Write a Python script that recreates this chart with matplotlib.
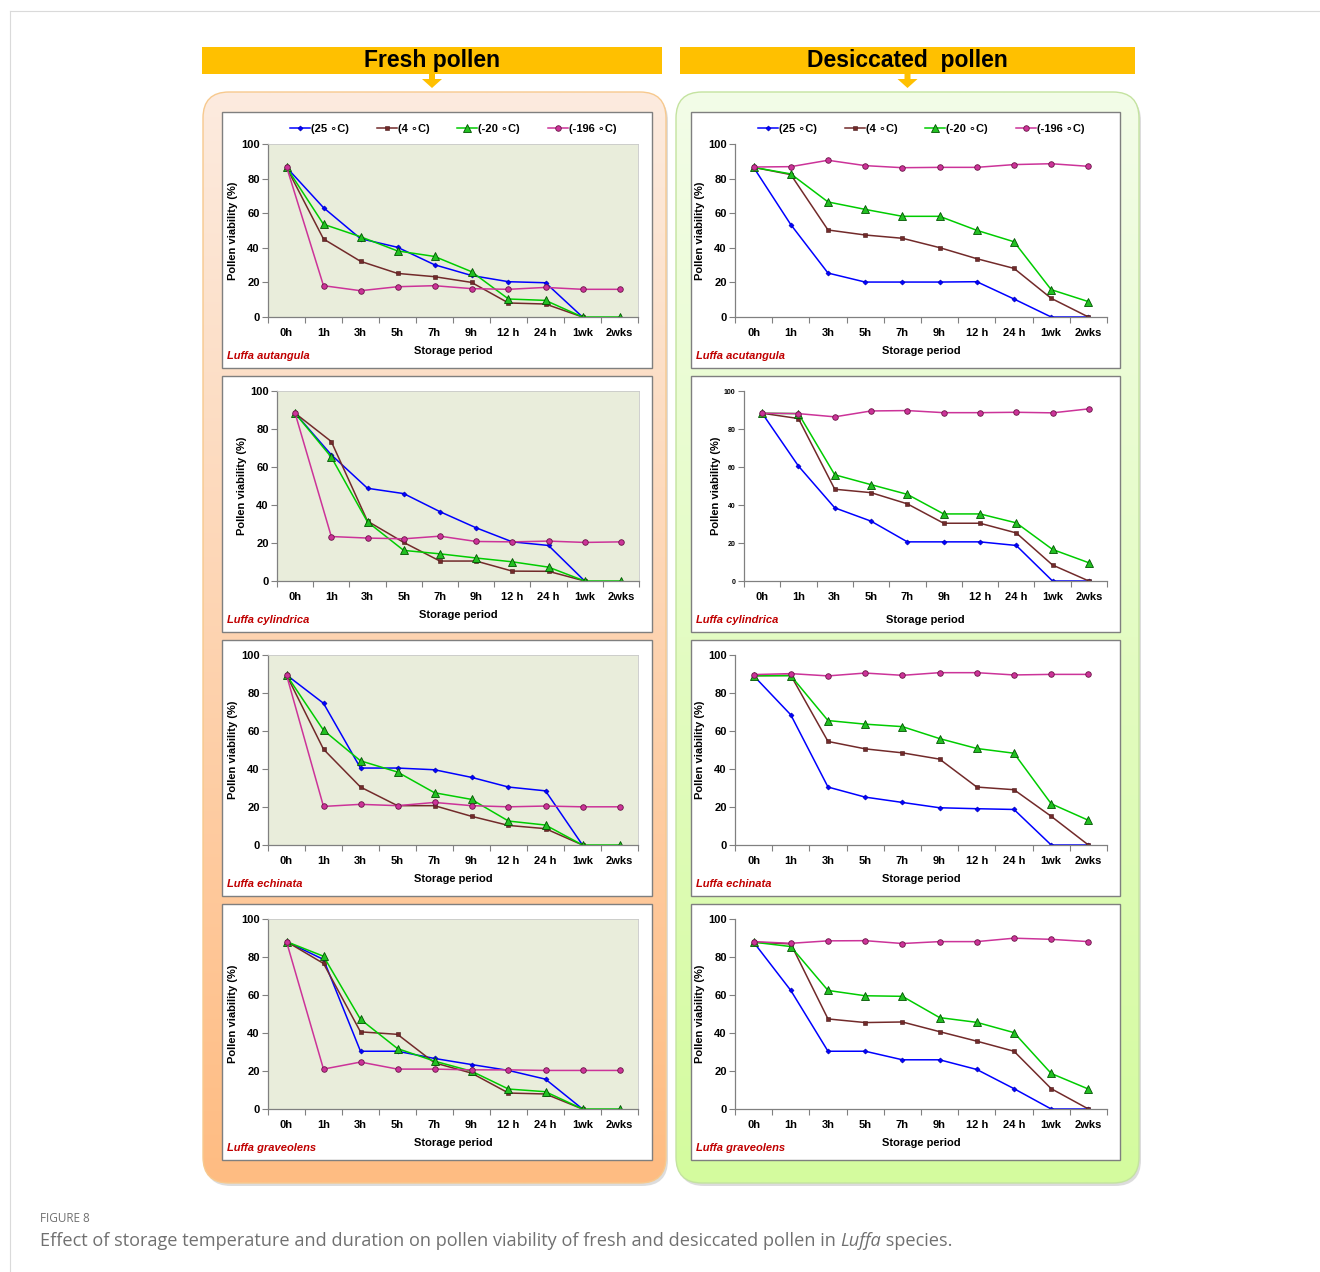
import numpy as np
import matplotlib

matplotlib.use("Agg")

import matplotlib.pyplot as plt  # noqa: E402
from matplotlib.patches import FancyBboxPatch, Rectangle, Polygon  # noqa: E402
from matplotlib.colors import to_rgb  # noqa: E402

plt.rcParams.update({
    "font.family": ["Liberation Sans", "DejaVu Sans"],
    "font.weight": "bold",
    "axes.labelweight": "bold",
})

W, H = 1320, 1272
nan = np.nan

periods = ["0h", "1h", "3h", "5h", "7h", "9h", "12 h", "24 h", "1wk", "2wks"]
temps = ["(25 \u2218C)", "(4 \u2218C)", "(-20 \u2218C)", "(-196 \u2218C)"]

# fresh pollen
autangula_fresh_25 = [86.5, 63.2, 45.3, 40.3, 30.2, 24.0, 20.4, 19.8, 0, nan]
autangula_fresh_4 = [86.5, 45.1, 32.2, 25.2, 23.3, 20.0, 8.1, 7.5, 0, nan]
autangula_fresh_20 = [86.5, 53.6, 46.4, 38.2, 35.0, 26.2, 10.4, 9.6, 0, 0]
autangula_fresh_196 = [86.9, 18.1, 15.2, 17.5, 18.1, 16.4, 16.0, 17.1, 16.0, 16.0]

cylindrica_fresh_25 = [88.3, 66.4, 48.8, 46.0, 36.5, 28.0, 20.6, 18.7, 0, nan]
cylindrica_fresh_4 = [88.3, 73.4, 31.5, 20.3, 10.5, 10.5, 5.2, 5.1, 0, nan]
cylindrica_fresh_20 = [88.3, 65.2, 31.1, 16.1, 14.3, 12.1, 10.1, 7.3, 0, 0]
cylindrica_fresh_196 = [88.3, 23.4, 22.6, 22.2, 23.6, 20.8, 20.6, 21.0, 20.3, 20.6]

echinata_fresh_25 = [89.5, 74.6, 40.5, 40.5, 39.6, 35.6, 30.5, 28.5, 0, nan]
echinata_fresh_4 = [89.5, 50.4, 30.5, 20.7, 20.7, 15.1, 10.3, 8.6, 0, nan]
echinata_fresh_20 = [89.5, 60.4, 44.3, 38.4, 27.5, 24.0, 12.6, 10.5, 0, 0]
echinata_fresh_196 = [89.5, 20.3, 21.4, 20.7, 22.4, 20.7, 20.1, 20.5, 20.1, 20.1]

graveolens_fresh_25 = [88.1, 78.7, 30.4, 30.4, 26.6, 23.4, 20.3, 15.7, 0, nan]
graveolens_fresh_4 = [88.1, 76.6, 40.6, 39.3, 24.3, 18.9, 8.4, 7.9, 0, nan]
graveolens_fresh_20 = [88.1, 80.4, 47.2, 31.8, 25.2, 19.9, 10.5, 9.1, 0, 0]
graveolens_fresh_196 = [88.1, 21.0, 24.7, 21.0, 21.0, 20.6, 20.6, 20.3, 20.3, 20.3]

# desiccated pollen
acutangula_dry_25 = [86.5, 53.4, 25.4, 20.2, 20.2, 20.2, 20.4, 10.4, 0, 0]
acutangula_dry_4 = [86.5, 82.3, 50.3, 47.4, 45.5, 40.1, 33.7, 28.1, 10.8, 0]
acutangula_dry_20 = [86.5, 82.7, 66.5, 62.2, 58.2, 58.2, 50.1, 43.5, 15.8, 8.9]
acutangula_dry_196 = [86.7, 86.9, 90.6, 87.5, 86.3, 86.5, 86.5, 88.1, 88.6, 87.1]

cylindrica_dry_25 = [88.3, 60.5, 38.5, 31.5, 20.6, 20.6, 20.6, 18.7, 0, 0]
cylindrica_dry_4 = [88.3, 85.5, 48.3, 46.5, 40.6, 30.4, 30.4, 25.3, 8.4, 0]
cylindrica_dry_20 = [88.3, 88.1, 55.9, 50.7, 45.6, 35.3, 35.3, 30.6, 16.6, 9.6]
cylindrica_dry_196 = [88.3, 88.1, 86.4, 89.5, 89.7, 88.6, 88.6, 88.8, 88.5, 90.6]

echinata_dry_25 = [89.1, 68.5, 30.5, 25.2, 22.4, 19.6, 19.1, 18.7, 0, 0]
echinata_dry_4 = [89.1, 89.3, 54.5, 50.6, 48.5, 45.2, 30.5, 29.1, 15.1, 0]
echinata_dry_20 = [89.1, 89.1, 65.5, 63.6, 62.3, 56.0, 50.8, 48.3, 21.7, 13.0]
echinata_dry_196 = [89.7, 90.2, 89.0, 90.5, 89.3, 90.7, 90.7, 89.5, 89.8, 89.8]

graveolens_dry_25 = [87.8, 62.4, 30.4, 30.4, 25.9, 25.9, 20.8, 10.7, 0, 0]
graveolens_dry_4 = [87.8, 86.9, 47.4, 45.5, 45.8, 40.7, 35.7, 30.4, 10.7, 0]
graveolens_dry_20 = [87.8, 85.5, 62.4, 59.6, 59.3, 48.1, 45.6, 40.2, 18.7, 10.5]
graveolens_dry_196 = [88.1, 87.2, 88.5, 88.6, 87.1, 88.1, 88.1, 89.9, 89.3, 88.1]

styles = [
    dict(color="#0000FF", marker="D", markersize=2.6, markerfacecolor="#0000FF",
         markeredgecolor="#0000AA", markeredgewidth=0.4),
    dict(color="#722A2A", marker="s", markersize=2.6, markerfacecolor="#722A2A",
         markeredgecolor="#4A1A1A", markeredgewidth=0.4),
    dict(color="#00CC00", marker="^", markersize=5.5, markerfacecolor="#22C022",
         markeredgecolor="#005500", markeredgewidth=0.6),
    dict(color="#CC3399", marker="o", markersize=4.0, markerfacecolor="#CC3399",
         markeredgecolor="#6A1545", markeredgewidth=0.6),
]

# kind, species, series, white box px (x0, y0, x1, y1), plot area px
panels = [
    ("fresh", "Luffa autangula",
     [autangula_fresh_25, autangula_fresh_4, autangula_fresh_20, autangula_fresh_196],
     (222, 112, 652, 368), (268, 144, 638, 317)),
    ("fresh", "Luffa cylindrica",
     [cylindrica_fresh_25, cylindrica_fresh_4, cylindrica_fresh_20, cylindrica_fresh_196],
     (222, 376, 652, 632), (277, 391, 639, 581)),
    ("fresh", "Luffa echinata",
     [echinata_fresh_25, echinata_fresh_4, echinata_fresh_20, echinata_fresh_196],
     (222, 640, 652, 896), (268, 655, 638, 845)),
    ("fresh", "Luffa graveolens",
     [graveolens_fresh_25, graveolens_fresh_4, graveolens_fresh_20, graveolens_fresh_196],
     (222, 904, 652, 1160), (268, 919, 638, 1109)),
    ("dry", "Luffa acutangula",
     [acutangula_dry_25, acutangula_dry_4, acutangula_dry_20, acutangula_dry_196],
     (691, 112, 1120, 368), (735, 144, 1107, 317)),
    ("dry", "Luffa cylindrica",
     [cylindrica_dry_25, cylindrica_dry_4, cylindrica_dry_20, cylindrica_dry_196],
     (691, 376, 1120, 632), (744, 391, 1107, 581)),
    ("dry", "Luffa echinata",
     [echinata_dry_25, echinata_dry_4, echinata_dry_20, echinata_dry_196],
     (691, 640, 1120, 896), (735, 655, 1107, 845)),
    ("dry", "Luffa graveolens",
     [graveolens_dry_25, graveolens_dry_4, graveolens_dry_20, graveolens_dry_196],
     (691, 904, 1120, 1160), (735, 919, 1107, 1109)),
]


def fig_rect(x0, y0, x1, y1):
    return [x0 / W, 1 - y1 / H, (x1 - x0) / W, (y1 - y0) / H]


fig = plt.figure(figsize=(W / 100, H / 100), dpi=100)
fig.patch.set_facecolor("white")

bg = fig.add_axes([0, 0, 1, 1], zorder=0)
bg.set_xlim(0, W)
bg.set_ylim(H, 0)
bg.set_axis_off()

# page frame
bg.plot([10, W], [11, 11], color="#DADADA", lw=0.8)
bg.plot([10, 10], [11, H], color="#DADADA", lw=0.8)


def gradient_panel(x0, y0, x1, y1, top, bottom, edge):
    shadow = FancyBboxPatch((x0 + 2, y0 + 3), x1 - x0, y1 - y0,
                            boxstyle="round,pad=0,rounding_size=26",
                            fc="#BBBBBB", ec="none", alpha=0.5)
    bg.add_patch(shadow)
    box = FancyBboxPatch((x0, y0), x1 - x0, y1 - y0,
                         boxstyle="round,pad=0,rounding_size=26",
                         fc="none", ec=edge, lw=1.0, zorder=3)
    bg.add_patch(box)
    t = np.linspace(0, 1, 256)[:, None, None]
    grad = (1 - t) * np.array(to_rgb(top)) + t * np.array(to_rgb(bottom))
    im = bg.imshow(grad, extent=(x0, x1, y1, y0), origin="upper",
                   aspect="auto", zorder=2, interpolation="bilinear")
    im.set_clip_path(box)


gradient_panel(203, 92, 666, 1183, "#FCEBDF", "#FFBC82", "#F7C98E")
gradient_panel(676, 92, 1139, 1183, "#F3FDE8", "#D4FB9E", "#C4E3A0")
bg.set_xlim(0, W)
bg.set_ylim(H, 0)

# header bars with arrows
for (x0, x1, label) in [(202, 662, "Fresh pollen"), (680, 1135, "Desiccated  pollen")]:
    bg.add_patch(Rectangle((x0, 47), x1 - x0, 27, fc="#FFC000", ec="none", zorder=4))
    cx = (x0 + x1) / 2
    bg.add_patch(Polygon([(cx - 3, 74), (cx + 3, 74), (cx + 3, 79), (cx + 10, 79),
                          (cx, 88), (cx - 10, 79), (cx - 3, 79)],
                         closed=True, fc="#FFC000", ec="none", zorder=4))
    bg.text(cx, 61, label, ha="center", va="center", fontsize=16.5,
            fontweight="bold", color="black", zorder=5)

# white chart boxes
for _, _, _, box, _ in panels:
    bx0, by0, bx1, by1 = box
    bg.add_patch(Rectangle((bx0, by0), bx1 - bx0, by1 - by0, fc="white",
                           ec="#7F7F7F", lw=1.0, zorder=4))

x = np.arange(len(periods))
for i, (kind, species, series, box, plot) in enumerate(panels):
    ax = fig.add_axes(fig_rect(*plot), zorder=2)
    ax.set_facecolor("#E9EDDB" if kind == "fresh" else "white")
    for vals, st, lab in zip(series, styles, temps):
        ax.plot(x, np.array(vals, dtype=float), lw=1.1, label=lab, **st)
    ax.set_xlim(-0.5, len(periods) - 0.5)
    ax.set_ylim(0, 100)
    ax.set_yticks(np.arange(0, 101, 20))
    ax.set_xticks(x)
    ax.set_xticklabels(periods)
    ax.set_xticks(np.arange(-0.5, len(periods)), minor=True)
    ax.tick_params(axis="x", which="major", length=0, pad=8, labelsize=8)
    ax.tick_params(axis="x", which="minor", length=4, color="#808080", width=0.8)
    small = (i == 5)
    ax.tick_params(axis="y", length=4, color="#808080", width=0.8, pad=2,
                   labelsize=5 if small else 8)
    for lbl in ax.get_xticklabels() + ax.get_yticklabels():
        lbl.set_fontweight("bold")
    for side in ["top", "right"]:
        if kind == "fresh":
            ax.spines[side].set_color("#C8C8C8")
            ax.spines[side].set_linewidth(0.6)
        else:
            ax.spines[side].set_visible(False)
    for side in ["left", "bottom"]:
        ax.spines[side].set_color("#808080")
        ax.spines[side].set_linewidth(0.9)
    ax.set_xlabel("Storage period", fontsize=8, fontweight="bold",
                  labelpad=9 if i == 5 else 6)
    ax.set_ylabel("Pollen viability (%)", fontsize=8, fontweight="bold", labelpad=2)
    bx0, by0, bx1, by1 = box
    fig.text((bx0 + 5) / W, 1 - (by1 - 12) / H, species, color="#C00000",
             fontsize=8, fontweight="bold", fontstyle="italic",
             ha="left", va="center", zorder=6)
    if i in (0, 4):
        ax.legend(loc="lower center", bbox_to_anchor=(0.5, 1.02), ncol=4,
                  frameon=False, handlelength=1.8, handletextpad=0.1,
                  columnspacing=2.5, borderaxespad=0.2,
                  prop={"size": 8, "weight": "bold"})

# caption
cap_font = dict(color="#707070", family=["Open Sans", "DejaVu Sans"],
                fontweight="normal", va="center")
fig.text(40 / W, 1 - 1218 / H, "FIGURE 8", fontsize=8.5, **cap_font)
renderer = fig.canvas.get_renderer()
xpos = 40 / W
for piece, style in [("Effect of storage temperature and duration on pollen viability "
                      "of fresh and desiccated pollen in ", "normal"),
                     ("Luffa", "italic"), (" species.", "normal")]:
    t = fig.text(xpos, 1 - 1241 / H, piece, fontsize=13.1, fontstyle=style, **cap_font)
    bb = t.get_window_extent(renderer)
    xpos += bb.width / W

fig.savefig("out.png", dpi=100)
